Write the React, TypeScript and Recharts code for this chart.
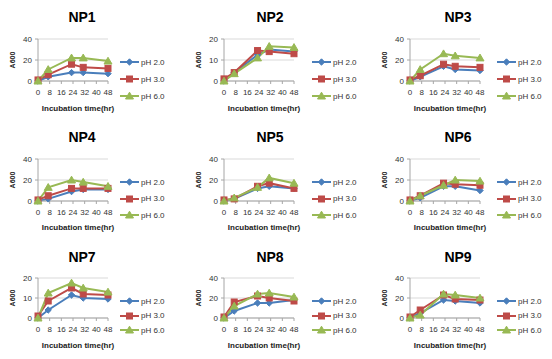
import React from 'react';
import { LineChart, Line, XAxis, YAxis, CartesianGrid, Legend } from 'recharts';

const hours = [0, 7, 23, 31, 48];
const xTicks = [0, 8, 16, 24, 32, 40, 48];
const seriesNames = ['pH 2.0', 'pH 3.0', 'pH 6.0'];
const panelNames = ['NP1', 'NP2', 'NP3', 'NP4', 'NP5', 'NP6', 'NP7', 'NP8', 'NP9'];
const yMaxes = [40, 20, 40, 40, 40, 40, 20, 40, 40];

const ph20 = [
  [0, 4, 8, 8, 7],
  [0, 4, 12.5, 15, 14],
  [0, 4, 14, 11, 10],
  [0, 2, 9, 11, 11],
  [0, 2, 12, 14, 12],
  [0, 3, 14, 14, 10],
  [0, 4, 11.5, 10, 9.5],
  [0, 7, 15, 15, 18],
  [0, 5, 18, 17, 15],
];
const ph30 = [
  [1, 6, 16, 13, 12],
  [1, 4, 14.5, 14, 13],
  [1, 5, 16, 14, 13],
  [1, 5, 12, 12, 12],
  [1, 2, 14, 17, 12],
  [1, 5, 17, 16, 15],
  [1, 8.5, 15, 12, 11.5],
  [1, 16, 22, 20, 17],
  [1, 8, 23, 19, 18],
];
const ph60 = [
  [0, 11, 22, 22, 19],
  [0, 3.5, 11, 16.5, 16],
  [0, 11, 26, 24, 22],
  [0, 13, 20, 18, 14],
  [0, 3, 13, 22, 17],
  [0, 5, 15, 20, 19],
  [0, 12.5, 17.5, 15, 13],
  [0, 12, 24, 25, 21],
  [0, 3, 24, 23, 20],
];

const COLORS = ['#4A7EBB', '#BE4B48', '#98B954'];
const FONT = '"Liberation Sans", Arial, sans-serif';
const W = 184;
const H = 120;
const PLOT_RIGHT = 108;
const colX = [0, 186, 372];
const legendX = [120, 126, 125];
const rows = [
  { top: 0, plotTop: 39, plotBottom: 81, legendTop: 62, legendGap: 17, axisTitle: 111 },
  { top: 120, plotTop: 39, plotBottom: 81, legendTop: 62, legendGap: 16.5, axisTitle: 110 },
  { top: 240, plotTop: 38, plotBottom: 78, legendTop: 61, legendGap: 14.5, axisTitle: 108 },
];

function marker(kind: number, cx: number, cy: number, key?: any) {
  const c = COLORS[kind];
  if (kind === 0) {
    const r = 3.2;
    return <path key={key} d={`M${cx},${cy - r}L${cx + r},${cy}L${cx},${cy + r}L${cx - r},${cy}Z`} fill={c} stroke={c} />;
  }
  if (kind === 1) {
    return <rect key={key} x={cx - 3} y={cy - 3} width={6} height={6} fill={c} stroke={c} />;
  }
  return <path key={key} d={`M${cx},${cy - 3.8}L${cx + 4},${cy + 3}L${cx - 4},${cy + 3}Z`} fill={c} stroke={c} />;
}

function makeDot(kind: number) {
  return (p: any) => {
    if (p.cx == null || p.cy == null) return <g key={`e${p.index}`} />;
    return marker(kind, p.cx, p.cy, `d${kind}-${p.index}`);
  };
}

function Panel({ idx }: { idx: number }) {
  const col = idx % 3;
  const row = Math.floor(idx / 3);
  const L = rows[row];
  const yMax = yMaxes[idx];
  const data = hours.map((h, i) => ({
    h,
    s0: ph20[idx][i],
    s1: ph30[idx][i],
    s2: ph60[idx][i],
  }));
  const XH = 30;
  const renderLegend = (props: any) => {
    const payload = props.payload || [];
    return (
      <div style={{ fontFamily: FONT }}>
        {payload.map((e: any, i: number) => {
          const k = Number(String(e.dataKey).slice(1));
          return (
            <div key={i} style={{ display: 'flex', alignItems: 'center', height: L.legendGap }}>
              <svg width={19} height={10} style={{ display: 'block' }}>
                <line x1={0} y1={5} x2={19} y2={5} stroke={COLORS[k]} strokeWidth={2} />
                {marker(k, 9.5, 5)}
              </svg>
              <span style={{ fontSize: 8, color: '#333', marginLeft: 2, whiteSpace: 'nowrap' }}>{e.value}</span>
            </div>
          );
        })}
      </div>
    );
  };
  return (
    <div style={{ position: 'absolute', left: colX[col], top: L.top, width: W, height: H }}>
      <svg width={W} height={30} style={{ position: 'absolute', left: 0, top: 0 }}>
        <text x={col === 0 ? 82 : col === 1 ? 84 : 86} y={22} textAnchor="middle" fontFamily={FONT} fontWeight="bold" fontSize={14} fill="#000">
          {panelNames[idx]}
        </text>
      </svg>
      <LineChart
        width={W}
        height={H}
        data={data}
        margin={{ top: L.plotTop, right: W - PLOT_RIGHT, bottom: H - L.plotBottom - XH, left: 0 }}
        style={{ fontFamily: FONT }}
      >
        <CartesianGrid vertical={false} stroke="#d9d9d9" />
        <XAxis
          dataKey="h"
          type="number"
          domain={[0, 48]}
          ticks={xTicks}
          interval={0}
          height={XH}
          tickSize={3}
          tickMargin={5}
          stroke="#a6a6a6"
          tick={{ fontSize: 8, fill: '#333' }}
          label={() => (
            <text x={78} y={L.axisTitle} textAnchor="middle" fontFamily={FONT} fontWeight="bold" fontSize={8} fill="#222">
              Incubation time(hr)
            </text>
          )}
        />
        <YAxis
          type="number"
          domain={[0, yMax]}
          ticks={[0, yMax / 2, yMax]}
          interval={0}
          width={38}
          tickSize={3}
          tickMargin={3}
          stroke="#a6a6a6"
          tick={{ fontSize: 8, fill: '#333' }}
          label={() => (
            <text
              x={12}
              y={(L.plotTop + L.plotBottom) / 2}
              transform={`rotate(-90 12 ${(L.plotTop + L.plotBottom) / 2})`}
              textAnchor="middle"
              dominantBaseline="central"
              fontFamily={FONT}
              fontWeight="bold"
              fontSize={7}
              fill="#222"
            >
              A600
            </text>
          )}
        />
        <Legend
          layout="vertical"
          align="center"
          verticalAlign="middle"
          content={renderLegend}
          wrapperStyle={{ left: legendX[col], top: L.legendTop - L.legendGap / 2, width: 60, height: 'auto' }}
        />
        {[0, 1, 2].map((k) => (
          <Line
            key={k}
            type="linear"
            dataKey={`s${k}`}
            name={seriesNames[k]}
            stroke={COLORS[k]}
            strokeWidth={2}
            dot={makeDot(k)}
            activeDot={false}
            isAnimationActive={false}
          />
        ))}
      </LineChart>
    </div>
  );
}

export default function App() {
  return (
    <div style={{ position: 'absolute', left: 0, top: 0, width: 552, height: 359, background: '#fff', fontFamily: FONT }}>
      {panelNames.map((_, i) => (
        <Panel key={i} idx={i} />
      ))}
    </div>
  );
}
